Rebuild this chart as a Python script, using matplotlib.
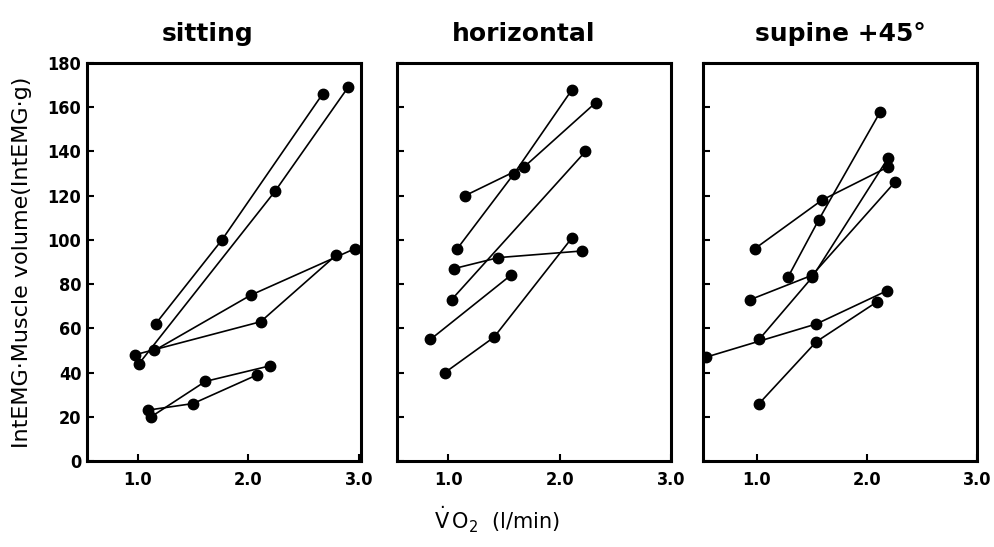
import matplotlib
matplotlib.use("Agg")
import matplotlib.pyplot as plt

# sitting: one list per subject
sit_x = [[1.16, 1.76, 2.67],
         [1.01, 2.24, 2.90],
         [0.97, 2.11, 2.79],
         [1.15, 2.02, 2.96],
         [1.09, 1.50, 2.08],
         [1.12, 1.61, 2.19]]
sit_y = [[62, 100, 166],
         [44, 122, 169],
         [48, 63, 93],
         [50, 75, 96],
         [23, 26, 39],
         [20, 36, 43]]

# horizontal
hor_x = [[1.15, 1.68, 2.32],
         [1.08, 1.59, 2.11],
         [1.05, 1.45, 2.20],
         [1.03, 2.23],
         [0.84, 1.56],
         [0.97, 1.41, 2.11]]
hor_y = [[120, 133, 162],
         [96, 130, 168],
         [87, 92, 95],
         [73, 140],
         [55, 84],
         [40, 56, 101]]

# supine +45
sup_x = [[0.98, 1.59, 2.19],
         [1.28, 1.56, 2.12],
         [0.94, 1.50, 2.25],
         [1.02, 1.50, 2.19],
         [0.54, 1.54, 2.18],
         [1.02, 1.54, 2.09]]
sup_y = [[96, 118, 133],
         [83, 109, 158],
         [73, 84, 126],
         [55, 83, 137],
         [47, 62, 77],
         [26, 54, 72]]

titles = ["sitting", "horizontal", "supine +45\u00b0"]
yticks = [0, 20, 40, 60, 80, 100, 120, 140, 160, 180]
xticks = [1.0, 2.0, 3.0]

tick_font = dict(family="DejaVu Sans", weight="bold", size=13, stretch="condensed")

fig = plt.figure(figsize=(9.94, 5.47), dpi=100)

lefts = [0.0875, 0.3994, 0.7072]
xlims = [(0.54, 3.02), (0.54, 3.0), (0.51, 2.98)]
title_x = [0.44, 0.46, 0.5]
panels = [(sit_x, sit_y), (hor_x, hor_y), (sup_x, sup_y)]

for i, (xs, ys) in enumerate(panels):
    ax = fig.add_axes([lefts[i], 0.1572, 0.276, 0.7276])
    for x, y in zip(xs, ys):
        ax.plot(x, y, color="black", lw=1.2, marker="o", ms=7.5,
                mfc="black", mec="black")
    ax.set_xlim(*xlims[i])
    ax.set_ylim(0, 180)
    ax.set_xticks(xticks)
    ax.set_yticks(yticks)
    ax.set_xticklabels(["%.1f" % t for t in xticks], fontdict=tick_font)
    if i == 0:
        ax.set_yticklabels([str(t) for t in yticks], fontdict=tick_font)
    else:
        ax.set_yticklabels([])
    ax.tick_params(direction="in", length=5, width=1.5, pad=4)
    ax.tick_params(axis="x", pad=7)
    for sp in ax.spines.values():
        sp.set_linewidth(2.2)
    ax.set_title(titles[i], fontsize=18, fontweight="bold", pad=16, x=title_x[i])

fig.text(0.022, 0.52, "IntEMG\u00b7Muscle volume(IntEMG\u00b7g)", rotation=90,
         ha="center", va="center", fontsize=16)
fig.text(0.50, 0.05, r"$\mathrm{\dot{V}\,O_2}$  (l/min)", ha="center",
         va="center", fontsize=15)

fig.savefig("out.png", dpi=100)
